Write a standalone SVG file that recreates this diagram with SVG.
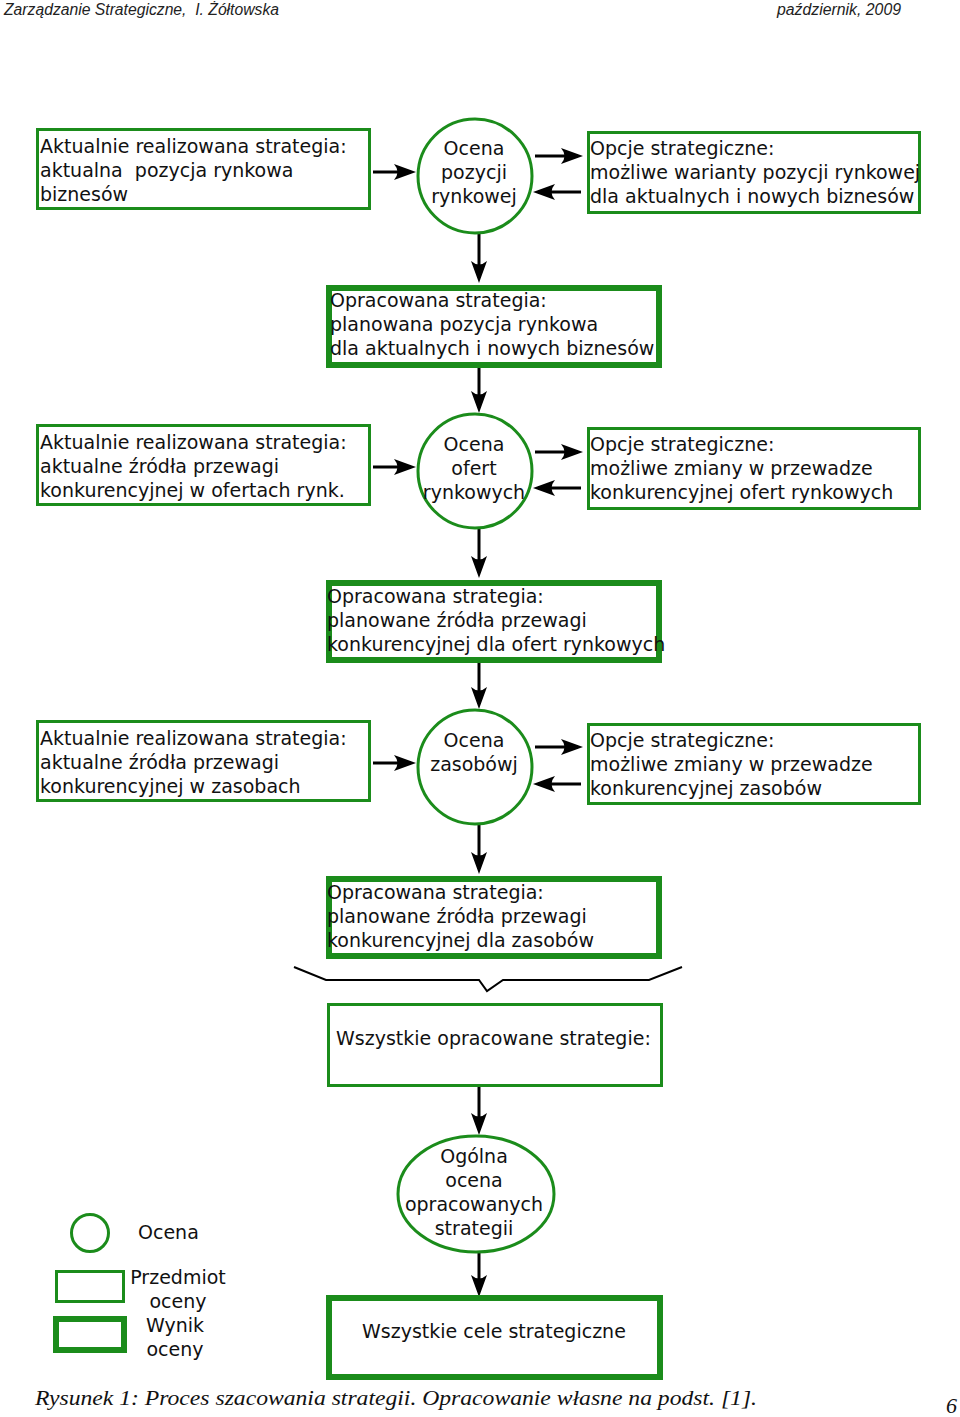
<svg xmlns="http://www.w3.org/2000/svg" width="960" height="1417" viewBox="0 0 960 1417">
<defs>
<marker id="ah" markerUnits="userSpaceOnUse" overflow="visible" orient="auto" refX="-5" refY="0" markerWidth="1" markerHeight="1">
<path d="M0,0 L-22,-8 Q-15,0 -22,8 Z" fill="#000"/>
</marker>
<style>
.bg{fill:#fff}
.thin{fill:#fff;stroke:#1b8c1b;stroke-width:3}
.thick{fill:#fff;stroke:#1b8c1b;stroke-width:6}
.circ{fill:#fff;stroke:#1b8c1b;stroke-width:3}
.t{font-family:"DejaVu Sans",sans-serif;font-size:19px;fill:#111}
.c{text-anchor:middle}
.ar{stroke:#000;stroke-width:3;fill:none;marker-end:url(#ah)}
.hd{font-family:"Liberation Sans",Arial,sans-serif;font-style:italic;font-size:16px;fill:#222}
.cap{font-family:"Liberation Serif","Times New Roman",serif;font-style:italic;font-size:22px;fill:#111}
</style>
</defs>
<rect class="bg" x="0" y="0" width="960" height="1417"/>
<g id="header">
<text class="hd" x="4" y="15" textLength="275" lengthAdjust="spacingAndGlyphs" xml:space="preserve">Zarządzanie Strategiczne,  I. Żółtowska</text>
<text class="hd" x="777" y="15" textLength="124" lengthAdjust="spacingAndGlyphs">październik, 2009</text>
</g>
<g id="connectors">
<line class="ar" x1="373" y1="172" x2="411" y2="172"/>
<line class="ar" x1="535" y1="156" x2="578" y2="156"/>
<line class="ar" x1="581" y1="192" x2="538" y2="192"/>
<line class="ar" x1="479" y1="234" x2="479" y2="278"/>
<line class="ar" x1="479" y1="368" x2="479" y2="408"/>
<line class="ar" x1="373" y1="467" x2="411" y2="467"/>
<line class="ar" x1="535" y1="452" x2="578" y2="452"/>
<line class="ar" x1="581" y1="488" x2="538" y2="488"/>
<line class="ar" x1="479" y1="529" x2="479" y2="573"/>
<line class="ar" x1="479" y1="663" x2="479" y2="704"/>
<line class="ar" x1="373" y1="763" x2="411" y2="763"/>
<line class="ar" x1="535" y1="747" x2="578" y2="747"/>
<line class="ar" x1="581" y1="784" x2="538" y2="784"/>
<line class="ar" x1="479" y1="825" x2="479" y2="869"/>
<line class="ar" x1="479" y1="1087" x2="479" y2="1130"/>
<line class="ar" x1="479" y1="1252" x2="479" y2="1292"/>
<polyline points="294,967 326,980 479,980 487,991 503,980 649,980 682,967" fill="none" stroke="#000" stroke-width="2"/>
</g>
<g id="n1a"><rect class="thin" x="37.5" y="129.5" width="332" height="79"/>
<text class="t" x="40" y="153">Aktualnie realizowana strategia:</text>
<text class="t" x="40" y="177" xml:space="preserve">aktualna  pozycja rynkowa</text>
<text class="t" x="40" y="201">biznesów</text></g>
<g id="c1"><circle class="circ" cx="475" cy="176" r="57"/>
<text class="t c" x="474" y="155">Ocena</text>
<text class="t c" x="474" y="179">pozycji</text>
<text class="t c" x="474" y="203">rynkowej</text></g>
<g id="n1b"><rect class="thin" x="588.5" y="132.5" width="331" height="80"/>
<text class="t" x="590" y="155">Opcje strategiczne:</text>
<text class="t" x="590" y="179">możliwe warianty pozycji rynkowej</text>
<text class="t" x="590" y="203">dla aktualnych i nowych biznesów</text></g>
<g id="n2"><rect class="thick" x="329" y="288" width="330" height="77"/>
<text class="t" x="330" y="307">Opracowana strategia:</text>
<text class="t" x="330" y="331">planowana pozycja rynkowa</text>
<text class="t" x="330" y="355">dla aktualnych i nowych biznesów</text></g>
<g id="n3a"><rect class="thin" x="37.5" y="425.5" width="332" height="79"/>
<text class="t" x="40" y="449">Aktualnie realizowana strategia:</text>
<text class="t" x="40" y="473">aktualne źródła przewagi</text>
<text class="t" x="40" y="497">konkurencyjnej w ofertach rynk.</text></g>
<g id="c3"><circle class="circ" cx="475" cy="471" r="57"/>
<text class="t c" x="474" y="451">Ocena</text>
<text class="t c" x="474" y="475">ofert</text>
<text class="t c" x="474" y="499">rynkowych</text></g>
<g id="n3b"><rect class="thin" x="588.5" y="428.5" width="331" height="80"/>
<text class="t" x="590" y="451">Opcje strategiczne:</text>
<text class="t" x="590" y="475">możliwe zmiany w przewadze</text>
<text class="t" x="590" y="499">konkurencyjnej ofert rynkowych</text></g>
<g id="n4"><rect class="thick" x="329" y="583" width="330" height="77"/>
<text class="t" x="327" y="603">Opracowana strategia:</text>
<text class="t" x="327" y="627">planowane źródła przewagi</text>
<text class="t" x="327" y="651">konkurencyjnej dla ofert rynkowych</text></g>
<g id="n5a"><rect class="thin" x="37.5" y="721.5" width="332" height="79"/>
<text class="t" x="40" y="745">Aktualnie realizowana strategia:</text>
<text class="t" x="40" y="769">aktualne źródła przewagi</text>
<text class="t" x="40" y="793">konkurencyjnej w zasobach</text></g>
<g id="c5"><circle class="circ" cx="475" cy="767" r="57"/>
<text class="t c" x="474" y="747">Ocena</text>
<text class="t c" x="474" y="771">zasobówj</text></g>
<g id="n5b"><rect class="thin" x="588.5" y="724.5" width="331" height="79"/>
<text class="t" x="590" y="747">Opcje strategiczne:</text>
<text class="t" x="590" y="771">możliwe zmiany w przewadze</text>
<text class="t" x="590" y="795">konkurencyjnej zasobów</text></g>
<g id="n6"><rect class="thick" x="329" y="879" width="330" height="77"/>
<text class="t" x="327" y="899">Opracowana strategia:</text>
<text class="t" x="327" y="923">planowane źródła przewagi</text>
<text class="t" x="327" y="947">konkurencyjnej dla zasobów</text></g>
<g id="n7"><rect class="thin" x="328.5" y="1004.5" width="333" height="81"/>
<text class="t" x="336" y="1045">Wszystkie opracowane strategie:</text></g>
<g id="c8"><ellipse class="circ" cx="476" cy="1194" rx="78" ry="58"/>
<text class="t c" x="474" y="1163">Ogólna</text>
<text class="t c" x="474" y="1187">ocena</text>
<text class="t c" x="474" y="1211">opracowanych</text>
<text class="t c" x="474" y="1235">strategii</text></g>
<g id="n9"><rect class="thick" x="329" y="1298" width="331" height="79"/>
<text class="t" x="362" y="1338">Wszystkie cele strategiczne</text></g>
<g id="legend">
<circle class="circ" cx="90" cy="1233" r="18.5"/>
<text class="t" x="138" y="1239">Ocena</text>
<rect class="thin" x="56.5" y="1271.5" width="67" height="30"/>
<rect class="thick" x="56" y="1319" width="68" height="31"/>
<text class="t c" x="178" y="1284">Przedmiot</text>
<text class="t c" x="178" y="1308">oceny</text>
<text class="t c" x="175" y="1332">Wynik</text>
<text class="t c" x="175" y="1356">oceny</text>
</g>
<g id="caption">
<text class="cap" x="35" y="1405" textLength="722" lengthAdjust="spacingAndGlyphs">Rysunek 1: Proces szacowania strategii. Opracowanie własne na podst. [1].</text>
<text class="cap" x="946" y="1413">6</text>
</g>
</svg>
